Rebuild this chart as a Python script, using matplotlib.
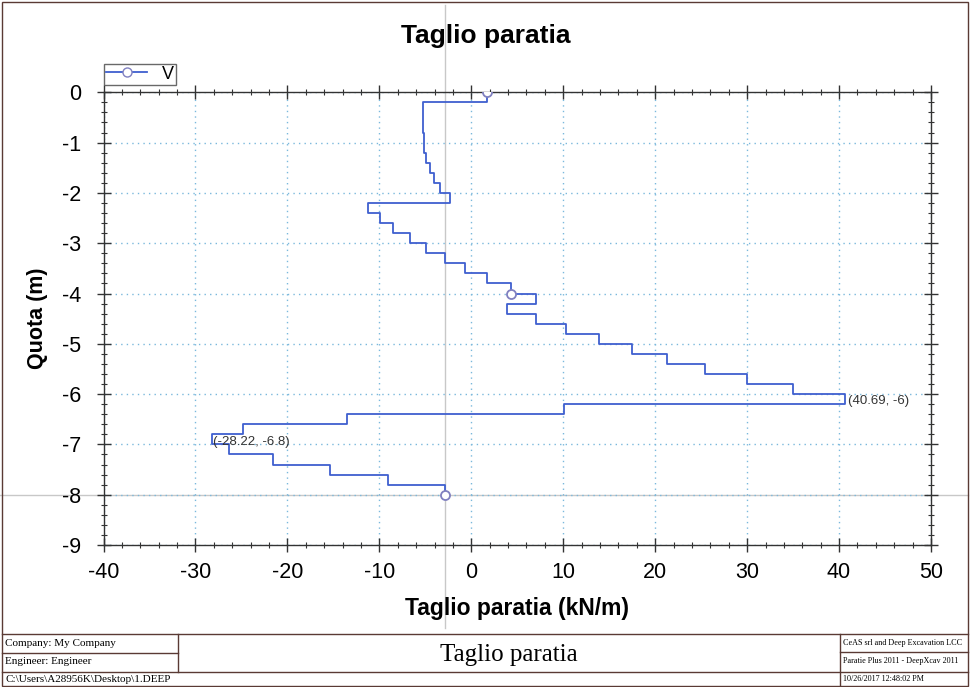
import matplotlib
matplotlib.use("Agg")
import matplotlib.pyplot as plt
from matplotlib.lines import Line2D
from matplotlib.patches import Rectangle
from matplotlib.ticker import MultipleLocator

plt.rcParams['font.family'] = ['Liberation Sans', 'DejaVu Sans']

# shear per 0.2 m element: element top depth and value (kN/m)
quota_top = [0.0, -0.2, -0.4, -0.6, -0.8, -1.0, -1.2, -1.4, -1.6, -1.8,
             -2.0, -2.2, -2.4, -2.6, -2.8, -3.0, -3.2, -3.4, -3.6, -3.8,
             -4.0, -4.2, -4.4, -4.6, -4.8, -5.0, -5.2, -5.4, -5.6, -5.8,
             -6.0, -6.2, -6.4, -6.6, -6.8, -7.0, -7.2, -7.4, -7.6, -7.8]
quota_bot = [-0.2, -0.4, -0.6, -0.8, -1.0, -1.2, -1.4, -1.6, -1.8, -2.0,
             -2.2, -2.4, -2.6, -2.8, -3.0, -3.2, -3.4, -3.6, -3.8, -4.0,
             -4.2, -4.4, -4.6, -4.8, -5.0, -5.2, -5.4, -5.6, -5.8, -6.0,
             -6.2, -6.4, -6.6, -6.8, -7.0, -7.2, -7.4, -7.6, -7.8, -8.0]
taglio = [1.74, -5.2, -5.2, -5.2, -5.15, -5.1, -4.97, -4.54, -4.07, -3.37,
          -2.28, -11.2, -9.98, -8.46, -6.71, -4.9, -2.9, -0.73, 1.7, 4.35,
          7.0, 3.9, 7.0, 10.3, 13.85, 17.5, 21.3, 25.4, 30.0, 35.0,
          40.69, 10.08, -13.5, -24.85, -28.22, -26.4, -21.6, -15.35, -9.07, -2.9]

# marked points
mark_x = [1.74, 4.35, -2.9]
mark_y = [0.0, -4.0, -8.0]

# labelled extremes
max_pt = (40.69, -6.0)
min_pt = (-28.22, -6.8)

xs, ys = [], []
for t, b, v in zip(quota_top, quota_bot, taglio):
    xs += [v, v]
    ys += [t, b]

fig = plt.figure(figsize=(9.71, 6.87), dpi=100)
W, H = 971, 687
ax = fig.add_axes([103.5 / W, 1 - 545 / H, 827.5 / W, 452.7 / H])

line_col = '#3f5fcf'
ax.plot(xs, ys, color=line_col, lw=1.3, zorder=3)
ax.plot(mark_x, mark_y, 'o', ms=6.5, mfc='white', mec='#8080c0', mew=1.3, zorder=4)

ax.set_xlim(-40, 50)
ax.set_ylim(-9, 0)
ax.xaxis.set_major_locator(MultipleLocator(10))
ax.xaxis.set_minor_locator(MultipleLocator(2))
ax.yaxis.set_major_locator(MultipleLocator(1))
ax.yaxis.set_minor_locator(MultipleLocator(0.2))
ax.tick_params(which='major', direction='inout', length=10, width=1, colors='#333333',
               labelsize=15.5, labelcolor='black', top=True, right=True)
ax.tick_params(which='minor', direction='inout', length=5, width=0.8, colors='#333333',
               top=True, right=True)
ax.tick_params(axis='x', pad=7)
ax.tick_params(axis='y', pad=11)
ax.set_yticks([0, -1, -2, -3, -4, -5, -6, -7, -8, -9])
ax.set_yticklabels(['0', '-1', '-2', '-3', '-4', '-5', '-6', '-7', '-8', '-9'])
ax.set_xticks([-40, -30, -20, -10, 0, 10, 20, 30, 40, 50])
ax.set_xticklabels(['-40', '-30', '-20', '-10', '0', '10', '20', '30', '40', '50'])
for s in ax.spines.values():
    s.set_color('#333333')
    s.set_linewidth(1)

ax.grid(True, which='major', color='#7ab8dc', lw=1, linestyle=(0, (1, 3)))

ax.set_xlabel('Taglio paratia (kN/m)', fontsize=16.5, fontweight='bold', labelpad=10)
ax.set_ylabel('Quota (m)', fontsize=15.5, fontweight='bold', labelpad=10)
fig.text(0.5, 1 - 36 / H, 'Taglio paratia', ha='center', va='center',
         fontsize=19, fontweight='bold')

# cursor crosshair
ax.axvline(-2.9, ymin=-0.183, ymax=1.193, color='#c8c8c8', lw=1, clip_on=False, zorder=1)
ax.axhline(-8.0, xmin=-0.125, xmax=1.045, color='#c8c8c8', lw=1, clip_on=False, zorder=1)

ax.annotate('(%.2f, %g)' % max_pt, xy=max_pt, xytext=(3, -7), textcoords='offset pixels',
            ha='left', va='center', fontsize=9.5, color='#333333')
ax.annotate('(%.2f, %g)' % min_pt, xy=min_pt, xytext=(1, -8), textcoords='offset pixels',
            ha='left', va='center', fontsize=9.5, color='#333333')

# legend
h = Line2D([], [], color=line_col, lw=1.3, marker='o', ms=6.5, mfc='white', mec='#8080c0')
leg = fig.legend([h], ['V'], loc='upper left', bbox_to_anchor=(104 / W, 1 - 64 / H),
                 fontsize=13, frameon=True, fancybox=False, borderpad=0.1,
                 handlelength=2.3, handletextpad=0.8, borderaxespad=0)
leg.get_frame().set_edgecolor('#444444')
leg.get_frame().set_linewidth(1)


# footer block
def fx(px):
    return px / W


def fy(py):
    return 1 - py / H


edge = '#5a3a34'
fig.add_artist(Rectangle((fx(2), fy(686)), fx(966), 684 / H, fill=False,
                         edgecolor=edge, lw=1, transform=fig.transFigure))
for y in [634, 672]:
    fig.add_artist(Line2D([fx(2), fx(968)], [fy(y), fy(y)], color=edge, lw=1))
fig.add_artist(Line2D([fx(2), fx(178)], [fy(653), fy(653)], color=edge, lw=1))
fig.add_artist(Line2D([fx(840), fx(968)], [fy(652), fy(652)], color=edge, lw=1))
fig.add_artist(Line2D([fx(178), fx(178)], [fy(634), fy(672)], color=edge, lw=1))
fig.add_artist(Line2D([fx(840), fx(840)], [fy(634), fy(686)], color=edge, lw=1))

serif = ['Liberation Serif', 'DejaVu Serif']
fig.text(fx(5), fy(644), 'Company: My Company', family=serif, fontsize=8, va='center')
fig.text(fx(5), fy(662), 'Engineer: Engineer', family=serif, fontsize=8, va='center')
fig.text(fx(5), fy(679), 'C:\\Users\\A28956K\\Desktop\\1.DEEP', family=serif,
         fontsize=8, va='center')
fig.text(fx(509), fy(655), 'Taglio paratia', family=serif, fontsize=18,
         ha='center', va='center')
fig.text(fx(843), fy(643), 'CeAS srl and Deep Excavation LCC', family=serif,
         fontsize=5.9, va='center')
fig.text(fx(843), fy(661), 'Paratie Plus 2011 - DeepXcav 2011', family=serif,
         fontsize=5.9, va='center')
fig.text(fx(843), fy(679), '10/26/2017 12:48:02 PM', family=serif,
         fontsize=5.9, va='center')

fig.savefig('out.png', dpi=100)
